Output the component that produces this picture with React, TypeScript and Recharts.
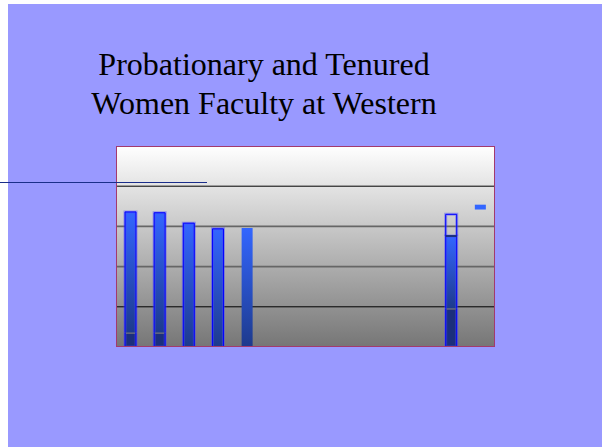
import { Bar, BarChart, CartesianGrid, XAxis, YAxis } from "recharts";

// 13 slots on the category axis; only a few carry bars in the original slide
const categories = ["1", "2", "3", "4", "5", "6", "7", "8", "9", "10", "11", "12", "13"];
const probationary = [18, 18, null, null, null, null, null, null, null, null, null, 48, null];
const tenured = [150, 149, 154, 147, 148, null, null, null, null, null, null, 90, null];
const openGap = [null, null, null, null, null, null, null, null, null, null, null, 27, null];
const floatBase = [null, null, null, null, null, null, null, null, null, null, null, null, 171];
const floatMark = [null, null, null, null, null, null, null, null, null, null, null, null, 6];
const gridValues = [50, 100, 150, 200];

const outlined = [true, true, true, true, false, false, false, false, false, false, false, true, false];
const gridStyles = [
  { stroke: "#000000", width: 1 },
  { stroke: "#666666", width: 1.6 },
  { stroke: "#666666", width: 1.6 },
  { stroke: "#000000", width: 1 },
];

const data = categories.map((category, i) => ({
  category,
  probationary: probationary[i],
  tenured: tenured[i],
  gap: openGap[i],
  base: floatBase[i],
  mark: floatMark[i],
}));

function Outline({ d }: { d: string }) {
  return (
    <g>
      <path d={d} fill="none" stroke="rgba(70,70,255,0.45)" strokeWidth={3} />
      <path d={d} fill="none" stroke="#0000ff" strokeWidth={1} />
    </g>
  );
}

function LowerShape(props: any) {
  const { x, y, width: w, height: h, index } = props;
  if (!(h > 0.5)) return <g />;
  return (
    <g>
      <rect x={x} y={y} width={w} height={h} fill="#1b2f7c" />
      {outlined[index] && (
        <Outline d={`M${x},${y} L${x},${y + h} L${x + w},${y + h} L${x + w},${y}`} />
      )}
      <line x1={x + 1} x2={x + w - 1} y1={y + 0.5} y2={y + 0.5} stroke="#a0957c" />
    </g>
  );
}

function UpperShape(props: any) {
  const { x, y, width: w, height: h, index } = props;
  if (!(h > 0.5)) return <g />;
  return (
    <g>
      <rect x={x} y={y} width={w} height={h} fill="url(#barGrad)" />
      {outlined[index] && (
        <Outline d={`M${x},${y + h} L${x},${y} L${x + w},${y} L${x + w},${y + h}`} />
      )}
    </g>
  );
}

function GapShape(props: any) {
  const { x, y, width: w, height: h } = props;
  if (!(h > 0.5)) return <g />;
  return (
    <g>
      <Outline d={`M${x},${y + h} L${x},${y} L${x + w},${y} L${x + w},${y + h}`} />
      <line x1={x} x2={x + w} y1={y + h} y2={y + h} stroke="#1b2f7c" strokeWidth={2} />
    </g>
  );
}

function MarkShape(props: any) {
  const { x, y, width: w, height: h } = props;
  if (!(h > 0.5)) return <g />;
  return <rect x={x} y={y} width={w} height={h} fill="#3366ff" />;
}

function GridLine(props: any) {
  const { x1, x2, y1, y2, index } = props;
  const s = gridStyles[index] ?? gridStyles[0];
  return (
    <line
      key={`grid-${index}`}
      x1={x1}
      x2={x2}
      y1={y1}
      y2={y2}
      stroke={s.stroke}
      strokeWidth={s.width}
    />
  );
}

export default function App() {
  return (
    <div style={{ position: "absolute", left: 0, top: 0, width: 602, height: 447, overflow: "hidden" }}>
      <div
        style={{
          position: "absolute",
          left: 8,
          top: 4,
          width: 594,
          height: 443,
          background: "#9999ff",
        }}
      />
      <div
        style={{
          position: "absolute",
          left: 64,
          top: 45,
          width: 400,
          textAlign: "center",
          fontFamily: "'Liberation Serif', 'Times New Roman', serif",
          fontSize: 32,
          lineHeight: "39px",
          color: "#000",
        }}
      >
        Probationary and Tenured
        <br />
        Women Faculty at Western
      </div>
      <div style={{ position: "absolute", left: 116, top: 146 }}>
        <BarChart
          width={379}
          height={201}
          data={data}
          margin={{ top: 0, right: 0, bottom: 0, left: 0 }}
          barSize={11}
        >
          <defs>
            <linearGradient id="bgGrad" x1="0" y1="0" x2="0" y2="1">
              <stop offset="0%" stopColor="#ffffff" />
              <stop offset="100%" stopColor="#767676" />
            </linearGradient>
            <linearGradient id="barGrad" x1="0" y1="0" x2="0" y2="1">
              <stop offset="0%" stopColor="#3366ff" />
              <stop offset="100%" stopColor="#1d3a8c" />
            </linearGradient>
          </defs>
          <CartesianGrid
            vertical={false}
            fill="url(#bgGrad)"
            fillOpacity={1}
            horizontalValues={gridValues}
            horizontal={GridLine}
          />
          <XAxis dataKey="category" hide />
          <YAxis hide domain={[0, 250]} />
          <Bar dataKey="probationary" stackId="a" shape={LowerShape} isAnimationActive={false} />
          <Bar dataKey="tenured" stackId="a" shape={UpperShape} isAnimationActive={false} />
          <Bar dataKey="gap" stackId="a" shape={GapShape} isAnimationActive={false} />
          <Bar dataKey="base" stackId="a" fill="transparent" shape={() => <g />} isAnimationActive={false} />
          <Bar dataKey="mark" stackId="a" shape={MarkShape} isAnimationActive={false} />
        </BarChart>
      </div>
      <div
        style={{
          position: "absolute",
          left: 116,
          top: 146,
          width: 379,
          height: 201,
          boxSizing: "border-box",
          border: "1px solid #a33a6e",
          pointerEvents: "none",
        }}
      />
      <div
        style={{
          position: "absolute",
          left: 0,
          top: 182,
          width: 207,
          height: 1,
          background: "#1a2e8a",
        }}
      />
    </div>
  );
}
